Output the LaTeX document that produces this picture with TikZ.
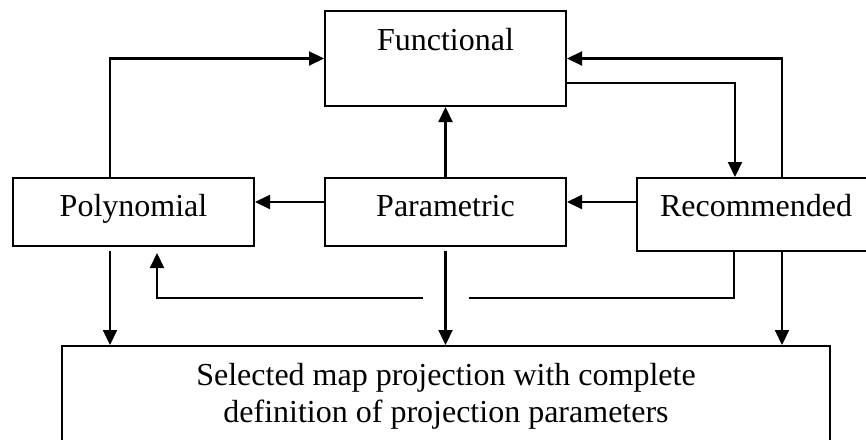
\documentclass[tikz,border=0pt]{standalone}
\usepackage{fontspec}
\setmainfont{Liberation Serif}
\usetikzlibrary{arrows.meta,positioning,calc}
\tikzset{
  blk/.style={rectangle,draw=black,line width=2pt,inner sep=0pt,
              font=\fontsize{32pt}{37pt}\selectfont,align=center},
  flow/.style={-{Triangle[length=15pt,width=14pt]},line width=2.1pt,draw=black},
  link/.style={line width=2.1pt,draw=black},
}
\begin{document}
\begin{tikzpicture}[x=1pt,y=-1pt]
  \useasboundingbox (0,0) rectangle (866,439);
  \node[blk,anchor=base,minimum width=241pt,text height=39pt,text depth=56pt] (func) at (445.5,50) {Functional};
  \node[blk,anchor=base,minimum width=241pt,text height=38pt,text depth=30pt] (poly) at (133.5,216) {Polynomial};
  \node[blk,anchor=base,minimum width=241pt,text height=38pt,text depth=30pt] (param) at (445.5,216) {Parametric};
  \node[blk,anchor=base,minimum width=238pt,text height=38pt,text depth=35pt] (recom) at (756,216) {Recommended};
  \node[blk,minimum width=768pt,minimum height=100pt] (sel) at (446,396)
    {Selected map projection with complete\\definition of projection parameters};
  \coordinate (fbR) at (469,298);
  \coordinate (fbL) at (423,298);
  \draw[flow] ([xshift=-23.5pt]poly.north) |- (func.west);
  \draw[flow] (param.north) -- (func.south);
  \draw[flow] ([yshift=-24.5pt]func.east) -| ([xshift=-21pt]recom.north);
  \draw[flow] ([xshift=26pt]recom.north) |- (func.east);
  \draw[flow] ([yshift=10pt]param.west) -- ([yshift=10pt]poly.east);
  \draw[flow] ([yshift=12.5pt]recom.west) -- ([yshift=10pt]param.east);
  \draw[flow,shorten <=4pt] ([xshift=-23.5pt]poly.south) -- ([xshift=-23.5pt]poly.south |- sel.north);
  \draw[flow,shorten <=4pt] (param.south) -- (param.south |- sel.north);
  \draw[flow] ([xshift=26pt]recom.south) -- ([xshift=26pt]recom.south |- sel.north);
  \draw[link] ([xshift=-22pt]recom.south) |- (fbR);
  \draw[flow,shorten >=6pt] (fbL) -| ([xshift=23.5pt]poly.south);
\end{tikzpicture}
\end{document}
